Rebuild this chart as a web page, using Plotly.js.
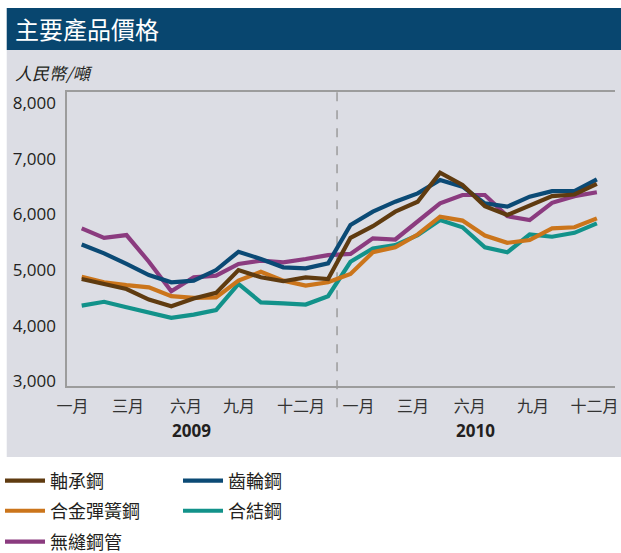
<!DOCTYPE html>
<html>
<head>
<meta charset="utf-8">
<script src="https://cdn.plot.ly/plotly-3.0.1.min.js"></script>
<style>html,body{margin:0;padding:0;background:#fff;}#chart{width:621px;height:553px;}</style>
</head>
<body>
<div id="chart"></div>
<script>
// Month positions (Jan 2009 .. Dec 2010)
const monthIdx = [0,1,2,3,4,5,6,7,8,9,10,11,12,13,14,15,16,17,18,19,20,21,22,23];

// Series values (RMB / tonne)
const bearingSteel = [4840,4750,4660,4470,4350,4490,4590,5000,4870,4800,4870,4840,
                      5580,5790,6050,6230,6750,6530,6150,5990,6170,6330,6360,6550];
const gearSteel    = [5460,5300,5110,4910,4780,4810,5000,5330,5200,5050,5030,5120,
                      5810,6050,6230,6380,6620,6500,6200,6140,6320,6420,6420,6630];
const springSteel  = [4880,4780,4730,4690,4530,4500,4510,4810,4970,4810,4720,4780,
                      4930,5320,5410,5640,5960,5890,5620,5490,5540,5750,5770,5930];
const structSteel  = [4360,4430,4330,4240,4140,4200,4280,4750,4420,4400,4380,4530,
                      5150,5390,5450,5630,5900,5770,5410,5320,5640,5600,5670,5840];
const seamlessPipe = [5750,5580,5630,5150,4620,4870,4900,5110,5170,5140,5200,5270,
                      5290,5570,5550,5880,6200,6350,6350,5970,5900,6210,6330,6400];

// Tick labels
const tickPos  = [-0.41, 2.07, 4.66, 7.02, 9.79, 12.36, 14.79, 17.33, 20.15, 22.9];
const tickText = ['一月','三月','六月','九月','十二月','一月','三月','六月','九月','十二月'];
const yearPos  = [4.92, 17.56];
const yearText = ['2009','2010'];
const yTicks   = [3000,4000,5000,6000,7000,8000];
const yearBreak = 11.4;

const names  = {bearing:'軸承鋼', gear:'齒輪鋼', spring:'合金彈簧鋼', struct:'合結鋼', pipe:'無縫鋼管'};
const colors = {bearing:'#5f3b10', gear:'#0b4a75', spring:'#cb751b', struct:'#12928a', pipe:'#8b3b7f'};

function tr(y, key, legend, rank) {
  return {x: monthIdx, y: y, type: 'scatter', mode: 'lines', name: names[key],
    line: {color: colors[key], width: 4.2}, legend: legend, legendrank: rank, hoverinfo: 'skip'};
}

const data = [
  tr(structSteel, 'struct', 'legend2', 2),
  tr(seamlessPipe, 'pipe', 'legend3', 1),
  tr(springSteel, 'spring', 'legend2', 1),
  tr(gearSteel, 'gear', 'legend', 2),
  tr(bearingSteel, 'bearing', 'legend', 1)
];

const cjk = '"Noto Sans CJK TC", "Noto Sans CJK SC", sans-serif';
const legBase = {orientation: 'h', xref: 'container', yref: 'container',
  xanchor: 'left', yanchor: 'middle', x: 0,
  bgcolor: 'rgba(0,0,0,0)', borderwidth: 0, entrywidth: 123, entrywidthmode: 'pixels',
  itemwidth: 40, traceorder: 'normal', font: {family: cjk, size: 18, color: '#231f20'}};

const layout = {
  width: 621, height: 553,
  margin: {l: 67, r: 6, t: 92, b: 167, pad: 0, autoexpand: false},
  paper_bgcolor: '#ffffff', plot_bgcolor: 'rgba(0,0,0,0)',
  showlegend: true,
  legend:  Object.assign({}, legBase, {y: 0.1302}),
  legend2: Object.assign({}, legBase, {y: 0.0759}),
  legend3: Object.assign({}, legBase, {y: 0.0199}),
  xaxis: {range: [-0.656, 23.81], showgrid: false, zeroline: false,
    showline: true, mirror: true, linecolor: '#9c9c9c', linewidth: 1.6,
    tickmode: 'array', tickvals: tickPos, ticktext: tickText,
    ticks: 'outside', ticklen: 5, tickcolor: 'rgba(0,0,0,0)',
    tickfont: {family: cjk, size: 16, color: '#333333'}, fixedrange: true},
  yaxis: {range: [2915, 8203], showgrid: false, zeroline: false,
    showline: true, linecolor: '#9c9c9c', linewidth: 1.6,
    tickmode: 'array', tickvals: yTicks, tickformat: ',', ticks: 'outside', ticklen: 6,
    tickcolor: 'rgba(0,0,0,0)',
    tickfont: {family: '"Open Sans", sans-serif', size: 17, color: '#231f20'}, fixedrange: true},
  shapes: [
    {type: 'rect', xref: 'paper', yref: 'paper', x0: -0.11, x1: 1.02, y0: -0.2415, y1: 1.1429,
     fillcolor: '#dcdde4', line: {width: 0}, layer: 'below'},
    {type: 'rect', xref: 'paper', yref: 'paper', x0: -0.11, x1: 1.02, y0: 1.1429, y1: 1.2857,
     fillcolor: '#08466f', line: {width: 0}, layer: 'below'},
    {type: 'line', xref: 'x', yref: 'paper', x0: yearBreak, x1: yearBreak, y0: -0.072, y1: 1,
     line: {color: '#9c9c9c', width: 1.5, dash: 'dash'}, layer: 'below'}
  ],
  annotations: [
    {text: '主要產品價格', xref: 'paper', yref: 'paper', x: -0.099, y: 1.2143,
     xanchor: 'left', yanchor: 'middle', showarrow: false,
     font: {family: cjk, size: 24, color: '#ffffff'}},
    {text: '<i>人民幣/噸</i>', xref: 'paper', yref: 'paper', x: -0.098, y: 1.068,
     xanchor: 'left', yanchor: 'middle', showarrow: false,
     font: {family: cjk, size: 17, color: '#231f20'}},
    {text: '<b>' + yearText[0] + '</b>', xref: 'x', yref: 'paper', x: yearPos[0], y: -0.15,
     xanchor: 'center', yanchor: 'middle', showarrow: false,
     font: {family: '"Open Sans", sans-serif', size: 17, color: '#231f20'}},
    {text: '<b>' + yearText[1] + '</b>', xref: 'x', yref: 'paper', x: yearPos[1], y: -0.15,
     xanchor: 'center', yanchor: 'middle', showarrow: false,
     font: {family: '"Open Sans", sans-serif', size: 17, color: '#231f20'}}
  ]
};

Plotly.newPlot('chart', data, layout, {displayModeBar: false, staticPlot: true});
</script>
</body>
</html>
